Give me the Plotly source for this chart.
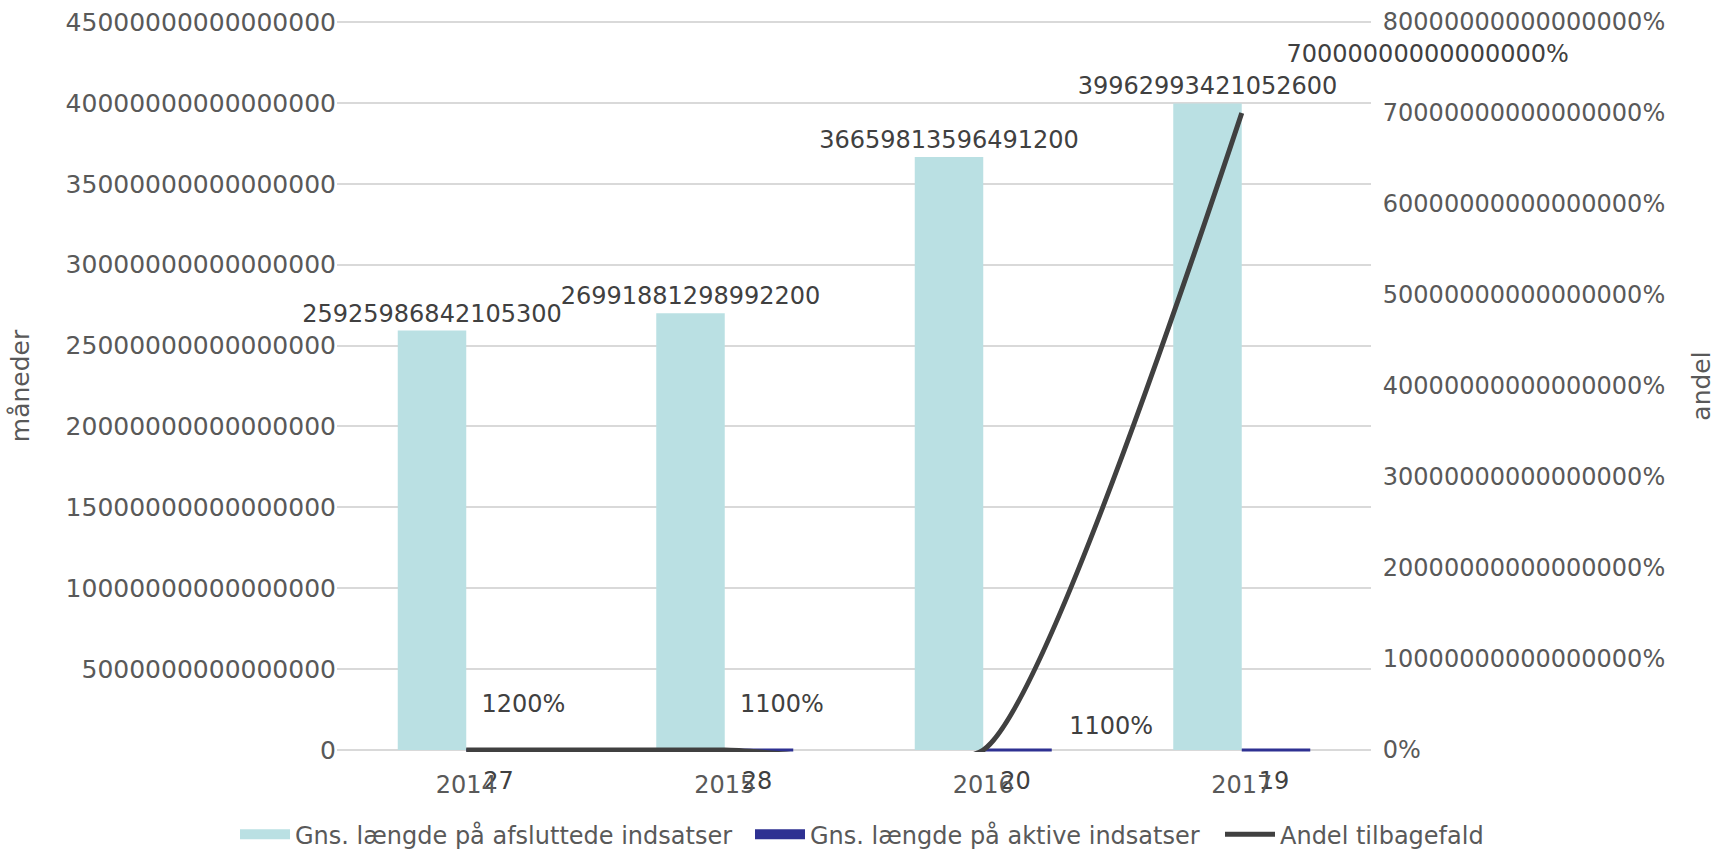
import plotly.graph_objects as go

years = ["2014", "2015", "2016", "2017"]
afsluttede = [25925986842105300, 26991881298992200, 36659813596491200, 39962993421052600]
aktive = [27, 28, 20, 19]
andel = [12, 11, 11, 700000000000000]  # shown as percent (x100)

left_ticks = [i * 5000000000000000 for i in range(10)]
right_ticks = [i * 100000000000000 for i in range(9)]

# label styling (offset marker sizes / left padding / anchor) for the line labels
line_lbl_size = [50, 50, 14, 70]
line_lbl_pad = [15, 15, 10, 0]
line_lbl_pos = ["top center", "top center", "top right", "top right"]
NBSP = "\u00a0"
BLUE_OFFSET = 0.125  # grouped-bar offset of the second bar, in category units
EDGE = 2 / 728       # range padding (about 2 px) so the edge gridlines are drawn

CYAN = "#BAE0E3"
BLUE = "#2E3192"
DARK = "#404040"


def pct(v):
    return f"{v * 100:.0f}%"


FONT = "DejaVu Sans"
TICKC = "#595959"
LBLC = "#404040"

ymax = left_ticks[-1]
y2max = right_ticks[-1]

fig = go.Figure()
fig.add_trace(go.Bar(
    x=years, y=afsluttede, name="Gns. længde på afsluttede indsatser",
    marker=dict(color=CYAN, line=dict(width=0)),
    text=[str(int(v)) for v in afsluttede], textposition="outside",
    textfont=dict(family=FONT, size=24, color=LBLC), constraintext="none",
    cliponaxis=False, showlegend=False,
))
fig.add_trace(go.Bar(
    x=years, y=aktive, name="Gns. længde på aktive indsatser",
    marker=dict(color=BLUE, line=dict(width=3, color=BLUE)),
    textposition="none", showlegend=False,
))
fig.add_trace(go.Scatter(
    x=years, y=andel, name="Andel tilbagefald", yaxis="y2", mode="lines",
    line=dict(color=DARK, width=5, shape="spline", smoothing=0.5),
    legend="legend3",
))
# value labels of the line
fig.add_trace(go.Scatter(
    x=years, y=andel, yaxis="y2", mode="markers+text",
    marker=dict(size=line_lbl_size, color="rgba(0,0,0,0)", line=dict(width=0)),
    text=[NBSP * p + pct(v) for p, v in zip(line_lbl_pad, andel)],
    textposition=line_lbl_pos, textfont=dict(family=FONT, size=24, color=LBLC),
    cliponaxis=False, showlegend=False, hoverinfo="skip",
))
# value labels of the small bars
fig.add_trace(go.Scatter(
    x=[i + BLUE_OFFSET for i in range(len(years))], y=aktive, xaxis="x2", yaxis="y",
    mode="markers+text", marker=dict(size=32, color="rgba(0,0,0,0)", line=dict(width=0)),
    text=[str(v) for v in aktive], textposition="bottom center",
    textfont=dict(family=FONT, size=24, color=LBLC),
    cliponaxis=False, showlegend=False, hoverinfo="skip",
))
# legend swatches for the bar series (wide rectangles like the reference)
fig.add_trace(go.Scatter(x=[None], y=[None], mode="lines", name="Gns. længde på afsluttede indsatser",
                         line=dict(color=CYAN, width=13), legend="legend", hoverinfo="skip"))
fig.add_trace(go.Scatter(x=[None], y=[None], mode="lines", name="Gns. længde på aktive indsatser",
                         line=dict(color=BLUE, width=13), legend="legend2", hoverinfo="skip"))

leg_common = dict(orientation="h", xref="container", yref="container", y=0.017,
                  yanchor="middle", xanchor="left", bgcolor="rgba(0,0,0,0)", itemwidth=50,
                  font=dict(family=FONT, size=24, color=TICKC))

fig.update_layout(
    width=1716, height=849,
    margin=dict(l=337, r=345, t=20, b=97, autoexpand=False),
    paper_bgcolor="white", plot_bgcolor="white",
    barmode="group", bargap=0.47, bargroupgap=0,
    font=dict(family=FONT, size=24, color=TICKC),
    xaxis=dict(type="category", range=[-0.5, 3.5], showgrid=False, showline=False,
               ticks="outside", ticklen=11, tickcolor="rgba(0,0,0,0)", automargin=False,
               tickfont=dict(family=FONT, size=24, color=TICKC)),
    xaxis2=dict(range=[-0.5, 3.5], overlaying="x", visible=False),
    yaxis=dict(range=[-ymax * EDGE, ymax * (1 + EDGE)], tickvals=left_ticks, tickformat="d",
               showgrid=True, gridcolor="#D9D9D9", gridwidth=1.5, zeroline=False,
               showline=False, ticks="", automargin=False,
               tickfont=dict(family=FONT, size=25, color=TICKC),
               title=dict(text="måneder", standoff=28, font=dict(family=FONT, size=25, color=TICKC))),
    yaxis2=dict(range=[-y2max * EDGE, y2max * (1 + EDGE)], tickvals=right_ticks,
                ticktext=[pct(t) for t in right_ticks],
                overlaying="y", side="right", showgrid=False, automargin=False,
                zeroline=False, showline=False, ticks="outside", ticklen=6,
                tickcolor="rgba(0,0,0,0)",
                tickfont=dict(family=FONT, size=24, color=TICKC),
                title=dict(text="andel", standoff=37, font=dict(family=FONT, size=25, color=TICKC))),
    legend=dict(x=235 / 1716, **leg_common),
    legend2=dict(x=750 / 1716, **leg_common),
    legend3=dict(x=1220 / 1716, **leg_common),
    showlegend=True,
)

fig.write_html("out.html", config={"displayModeBar": False},
               post_script="document.body.style.margin='0px';")
